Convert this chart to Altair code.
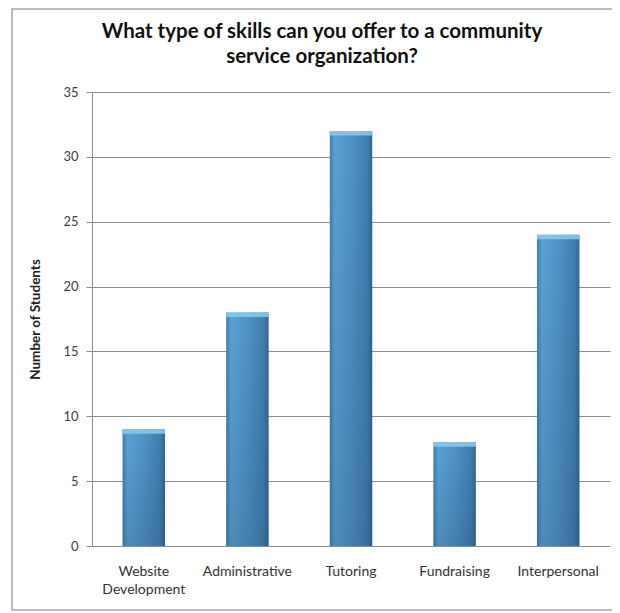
import altair as alt
import pandas as pd

categories = ["Website Development", "Administrative", "Tutoring", "Fundraising", "Interpersonal"]
students = [9, 18, 32, 8, 24]

df = pd.DataFrame({"skill": categories, "n": students})

FONT = "Lato"
W, H = 518, 454

xenc = alt.X("skill:N", sort=categories,
             scale=alt.Scale(paddingInner=0.59, paddingOuter=0.295),
             axis=alt.Axis(title=None, labelAngle=0, ticks=False, domain=False,
                           labelFont=FONT, labelFontSize=14, labelColor="#333333",
                           labelPadding=18, labelLineHeight=18,
                           labelExpr="datum.label == 'Website Development' ? ['Website', 'Development'] : datum.label"))
yenc = alt.Y("n:Q", scale=alt.Scale(domain=[0, 35], nice=False),
             axis=alt.Axis(values=[0, 5, 10, 15, 20, 25, 30, 35], title="Number of Students",
                           titleFont=FONT, titleFontSize=13.5, titleFontWeight="bold", titleColor="#222222",
                           titleX=-50, labelFont=FONT, labelFontSize=13, labelColor="#404040",
                           labelPadding=8, tickSize=6, tickColor="#8c8c8c", domainColor="#8c8c8c",
                           gridColor="#8c8c8c", gridWidth=1, tickWidth=1, domainWidth=1))

grad_h = alt.LinearGradient(gradient="linear", x1=0, x2=1, y1=0, y2=0, stops=[
    alt.GradientStop(color="#3f7fb0", offset=0),
    alt.GradientStop(color="#5aa2d4", offset=0.12),
    alt.GradientStop(color="#4f93c6", offset=0.5),
    alt.GradientStop(color="#427fb0", offset=0.88),
    alt.GradientStop(color="#35658f", offset=1)])
grad_v = alt.LinearGradient(gradient="linear", x1=0, x2=0, y1=0, y2=1, stops=[
    alt.GradientStop(color="rgba(20,40,70,0)", offset=0),
    alt.GradientStop(color="rgba(20,40,70,0.18)", offset=1)])

base = alt.Chart(df)
bars = base.mark_bar(color=grad_h).encode(x=xenc, y=yenc)
shade = base.mark_bar(color=grad_v).encode(x=alt.X("skill:N", sort=categories), y="n:Q")
bevel = base.mark_bar(color="#86c9ec", opacity=0.9).encode(
    x=alt.X("skill:N", sort=categories), y="n:Q", y2=alt.Y2("n_b:Q")
).transform_calculate(n_b="datum.n - 0.35")

border = alt.Chart(pd.DataFrame({"a": [0]})).mark_rect(
    fill=None, stroke="#a6a6a6", strokeWidth=1.5, clip=False
).encode(x=alt.value(-80), x2=alt.value(W + 3), y=alt.value(-83), y2=alt.value(H + 64))

chart = alt.layer(border, bars, shade, bevel).properties(
    width=W, height=H,
    title=alt.TitleParams(
        text=["What type of skills can you offer to a community", "service organization?"],
        font=FONT, fontSize=20.5, fontWeight="bold", color="#111111",
        anchor="middle", dx=-29, offset=-59, lineHeight=25, baseline="top"),
    autosize=alt.AutoSizeParams(type="none"),
    padding={"left": 84, "top": 84, "right": 2, "bottom": 66},
).configure_view(stroke=None).configure_axis(grid=True).configure_axisX(grid=False)

chart.save("out.html", embed_options={"renderer": "svg", "actions": False})
